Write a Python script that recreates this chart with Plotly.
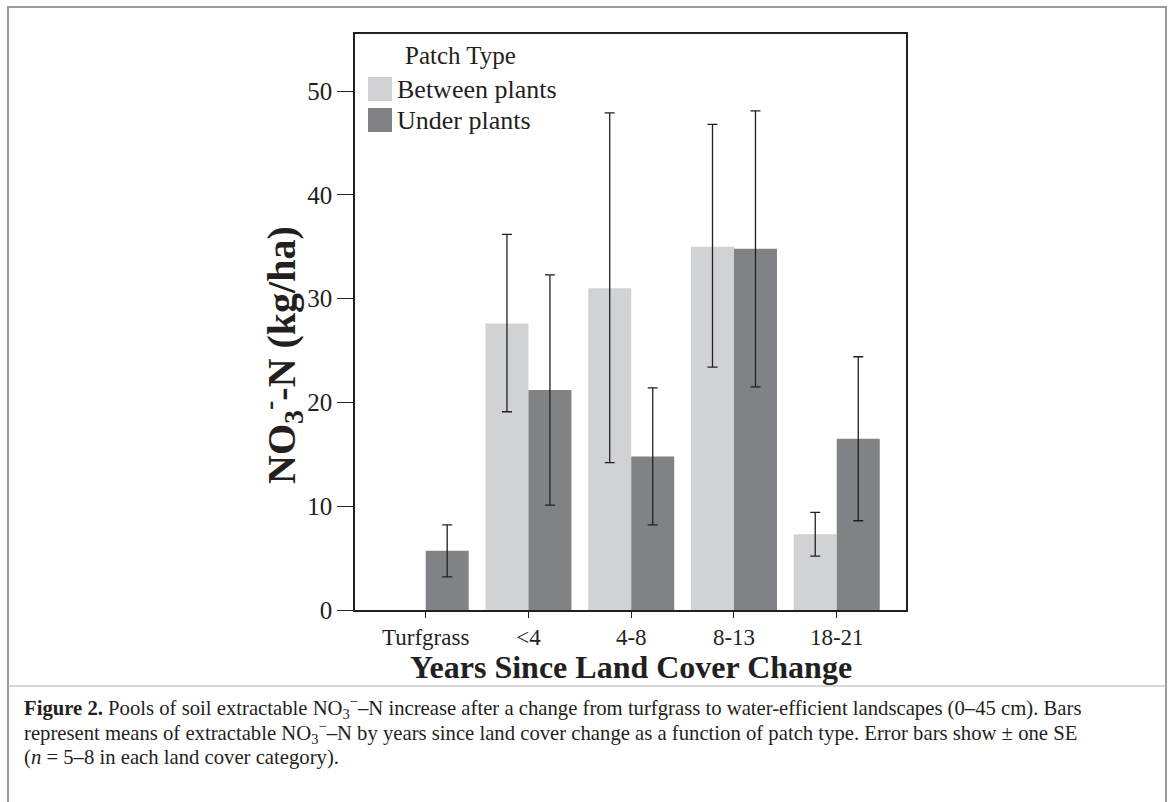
import plotly.graph_objects as go

# ---------------- data ----------------
categories = ["Turfgrass", "<4", "4-8", "8-13", "18-21"]
between_mean = [None, 27.6, 31.0, 35.0, 7.3]
between_upper = [None, 36.2, 47.9, 46.8, 9.4]
between_lower = [None, 19.1, 14.2, 23.4, 5.2]
under_mean = [5.7, 21.2, 14.8, 34.8, 16.5]
under_upper = [8.2, 32.3, 21.4, 48.1, 24.4]
under_lower = [3.2, 10.1, 8.2, 21.5, 8.6]
y_ticks = [0, 10, 20, 30, 40, 50]
series_names = ["Between plants", "Under plants"]
series_colors = ["#d1d2d4", "#808285"]
legend_title = "Patch Type"
x_title = "Years Since Land Cover Change"
y_title = "NO<sub>3</sub><sup>-</sup>-N (kg/ha)"
caption_lines = [
    "<b>Figure 2.</b> Pools of soil extractable NO<sub>3</sub><sup>\u2212</sup>\u2013N increase after a change from turfgrass to water-efficient landscapes (0\u201345 cm). Bars",
    "represent means of extractable NO<sub>3</sub><sup>\u2212</sup>\u2013N by years since land cover change as a function of patch type. Error bars show \u00b1 one SE",
    "(<i>n</i> = 5\u20138 in each land cover category).",
]

FONT = "Liberation Serif"
INK = "#231f20"

# plot area in pixels
L, R, T, B = 355, 906, 34, 610
W, H = 1171, 802


def px(x):
    return (x - L) / (R - L)


def py(y):
    return (B - y) / (B - T)


def plus(mean, up):
    return [None if m is None else u - m for m, u in zip(mean, up)]


def minus(mean, lo):
    return [None if m is None else m - l for m, l in zip(mean, lo)]


fig = go.Figure()
for name, color, mean, up, lo in [
    (series_names[0], series_colors[0], between_mean, between_upper, between_lower),
    (series_names[1], series_colors[1], under_mean, under_upper, under_lower),
]:
    fig.add_trace(go.Bar(
        x=categories, y=mean, name=name, showlegend=False,
        marker=dict(color=color, line=dict(width=0)),
        error_y=dict(type="data", symmetric=False, array=plus(mean, up),
                     arrayminus=minus(mean, lo), color=INK, thickness=1.3, width=5),
    ))

shapes = []
annotations = []

# custom legend
annotations.append(dict(text=legend_title, xref="paper", yref="paper", x=px(403), y=py(56),
                        xanchor="left", yanchor="middle", showarrow=False,
                        font=dict(family=FONT, size=25, color=INK)))
for i, (name, color) in enumerate(zip(series_names, series_colors)):
    top = 77 + i * 31
    shapes.append(dict(type="rect", xref="paper", yref="paper", x0=px(368), x1=px(392),
                       y0=py(top + 24), y1=py(top), fillcolor=color, line=dict(width=0)))
    annotations.append(dict(text=name, xref="paper", yref="paper", x=px(395), y=py(top + 12),
                            xanchor="left", yanchor="middle", showarrow=False,
                            font=dict(family=FONT, size=26, color=INK)))

# axis titles
annotations.append(dict(text="<b>" + x_title + "</b>", xref="paper", yref="paper",
                        x=px(631), y=py(667), xanchor="center", yanchor="middle",
                        showarrow=False, font=dict(family=FONT, size=32, color=INK)))
annotations.append(dict(text="<b>" + y_title + "</b>", xref="paper", yref="paper",
                        x=px(281), y=py(355), xanchor="center", yanchor="middle",
                        textangle=-90, showarrow=False,
                        font=dict(family=FONT, size=40, color=INK)))

# caption
for i, line in enumerate(caption_lines):
    annotations.append(dict(text=line, xref="paper", yref="paper", x=px(22), y=py(707 + 25 * i),
                            xanchor="left", yanchor="middle", showarrow=False, align="left",
                            font=dict(family=FONT, size=20.7, color=INK)))

# outer frame and separator
shapes.append(dict(type="rect", xref="paper", yref="paper", x0=px(8), x1=px(1166),
                   y0=py(815), y1=py(7), line=dict(color="#9a9a9a", width=2), layer="below"))
shapes.append(dict(type="line", xref="paper", yref="paper", x0=px(8), x1=px(1166),
                   y0=py(686), y1=py(686), line=dict(color="#b0b0b0", width=1)))

fig.update_layout(
    width=W, height=H,
    margin=dict(l=L, r=W - R, t=T, b=H - B, pad=0),
    paper_bgcolor="white", plot_bgcolor="white",
    barmode="group", bargap=0.163, bargroupgap=0,
    showlegend=False,
    font=dict(family=FONT, color=INK),
    shapes=shapes, annotations=annotations,
    xaxis=dict(type="category", range=[-0.688, 4.674], showline=True, mirror=True,
               linecolor=INK, linewidth=1.5, ticks="outside", ticklen=6, tickcolor=INK,
               tickwidth=1.2, showgrid=False, zeroline=False,
               tickfont=dict(family=FONT, size=23, color=INK)),
    yaxis=dict(range=[0, 55.5], tickvals=y_ticks, showline=True, mirror=True,
               linecolor=INK, linewidth=1.5, ticks="outside", ticklen=16, tickcolor=INK,
               tickwidth=1.2, showgrid=False, zeroline=False,
               tickfont=dict(family=FONT, size=25, color=INK)),
)

fig.write_html("out.html", config={"displayModeBar": False},
               post_script="document.body.style.margin='0px';document.body.style.overflow='hidden';")
